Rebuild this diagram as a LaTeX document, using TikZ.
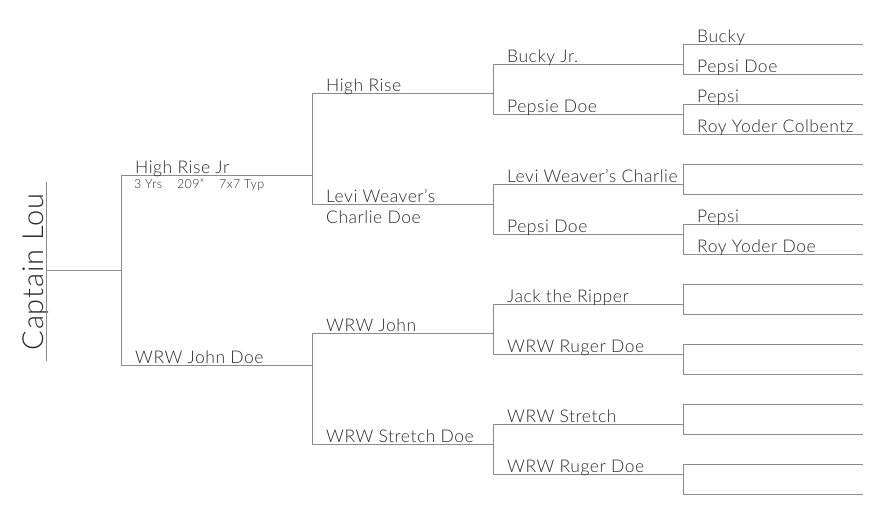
\documentclass[tikz,border=0pt]{standalone}
\usepackage{fontspec}
\setmainfont{Lato}[UprightFont={* Light}, LetterSpace=3]
\definecolor{linegray}{HTML}{8C8C8C}
\definecolor{textgray}{HTML}{2A2A2A}
\tikzset{
  conn/.style={draw=linegray, line width=1pt},
  lbl/.style={anchor=base west, inner sep=0pt, xshift=14pt, yshift=2.6pt, text=textgray, font=\fontsize{17.5}{20}\selectfont},
  small/.style={anchor=base west, inner sep=0pt, xshift=13pt, text=textgray, font=\fontsize{12.5}{14}\selectfont},
  title/.style={anchor=base, inner sep=0pt, rotate=90, text=textgray, font=\fontsize{29}{32}\selectfont},
}
\begin{document}
\begin{tikzpicture}[x=1pt,y=-1pt]
\useasboundingbox (0,0) rectangle (884,526);
% root
\coordinate (rt) at (46,182);
\coordinate (rb) at (46,361);
\coordinate (rl) at (46,271);
\coordinate (rr) at (121,271);
\node[title] (captain) at (43,272) {Captain Lou};
\draw[conn] (rt) -- (rb);
\draw[conn] (rl) -- (rr);
% generation 1
\coordinate (s1) at (121,176); \coordinate (s1r) at (312,176);
\coordinate (d1) at (121,366); \coordinate (d1r) at (312,366);
\draw[conn] (s1) -- (d1);
\draw[conn] (s1) -- (s1r);
\draw[conn] (d1) -- (d1r);
\node[lbl] (n_s1) at (s1) {High Rise Jr};
\node[small, yshift=-13pt] (n_s1info) at (s1) {3 Yrs\hspace{0.9em} 209”\hspace{0.9em} 7x7 Typ};
\node[lbl] (n_d1) at (d1) {WRW John Doe};
% generation 2
\coordinate (a2) at (312,94);  \coordinate (a2r) at (493,94);
\coordinate (b2) at (312,205); \coordinate (b2r) at (493,205);
\coordinate (c2) at (312,334); \coordinate (c2r) at (493,334);
\coordinate (e2) at (312,445); \coordinate (e2r) at (493,445);
\draw[conn] (a2) -- (b2);
\draw[conn] (c2) -- (e2);
\foreach \p in {a2,b2,c2,e2} {\draw[conn] (\p) -- (\p r);}
\node[lbl] (n_a2) at (a2) {High Rise};
\node[lbl] (n_b2) at (b2) {Levi Weaver’s};
\node[lbl, yshift=-21.5pt] (n_b2b) at (b2) {Charlie Doe};
\node[lbl] (n_c2) at (c2) {WRW John};
\node[lbl] (n_e2) at (e2) {WRW Stretch Doe};
% generation 3
\coordinate (a3) at (493,65);  \coordinate (a3r) at (683,65);
\coordinate (b3) at (493,115); \coordinate (b3r) at (683,115);
\coordinate (c3) at (493,185); \coordinate (c3r) at (683,185);
\coordinate (d3) at (493,235); \coordinate (d3r) at (683,235);
\coordinate (e3) at (493,305); \coordinate (e3r) at (683,305);
\coordinate (f3) at (493,355); \coordinate (f3r) at (683,355);
\coordinate (g3) at (493,425); \coordinate (g3r) at (683,425);
\coordinate (h3) at (493,475); \coordinate (h3r) at (683,475);
\draw[conn] (a3) -- (b3);
\draw[conn] (c3) -- (d3);
\draw[conn] (e3) -- (f3);
\draw[conn] (g3) -- (h3);
\foreach \p in {a3,b3,c3,d3,e3,f3,g3,h3} {\draw[conn] (\p) -- (\p r);}
\node[lbl] (n_a3) at (a3) {Bucky Jr.};
\node[lbl] (n_b3) at (b3) {Pepsie Doe};
\node[lbl] (n_c3) at (c3) {Levi Weaver’s Charlie};
\node[lbl] (n_d3) at (d3) {Pepsi Doe};
\node[lbl] (n_e3) at (e3) {Jack the Ripper};
\node[lbl] (n_f3) at (f3) {WRW Ruger Doe};
\node[lbl] (n_g3) at (g3) {WRW Stretch};
\node[lbl] (n_h3) at (h3) {WRW Ruger Doe};
% generation 4
\foreach \n/\y in {a4/45,b4/75,c4/105,d4/135,e4/165,f4/195,g4/225,h4/255,i4/285,j4/315,k4/345,l4/375,m4/405,o4/435,p4/465,q4/495} {
  \coordinate (\n) at (683,\y);
  \coordinate (\n r) at (863,\y);
  \draw[conn] (\n) -- (\n r);
}
\draw[conn] (a4) -- (b4);
\draw[conn] (c4) -- (d4);
\draw[conn] (e4) -- (f4);
\draw[conn] (g4) -- (h4);
\draw[conn] (i4) -- (j4);
\draw[conn] (k4) -- (l4);
\draw[conn] (m4) -- (o4);
\draw[conn] (p4) -- (q4);
\node[lbl] (n_a4) at (a4) {Bucky};
\node[lbl] (n_b4) at (b4) {Pepsi Doe};
\node[lbl] (n_c4) at (c4) {Pepsi};
\node[lbl] (n_d4) at (d4) {Roy Yoder Colbentz};
\node[lbl] (n_g4) at (g4) {Pepsi};
\node[lbl] (n_h4) at (h4) {Roy Yoder Doe};
\end{tikzpicture}
\end{document}
